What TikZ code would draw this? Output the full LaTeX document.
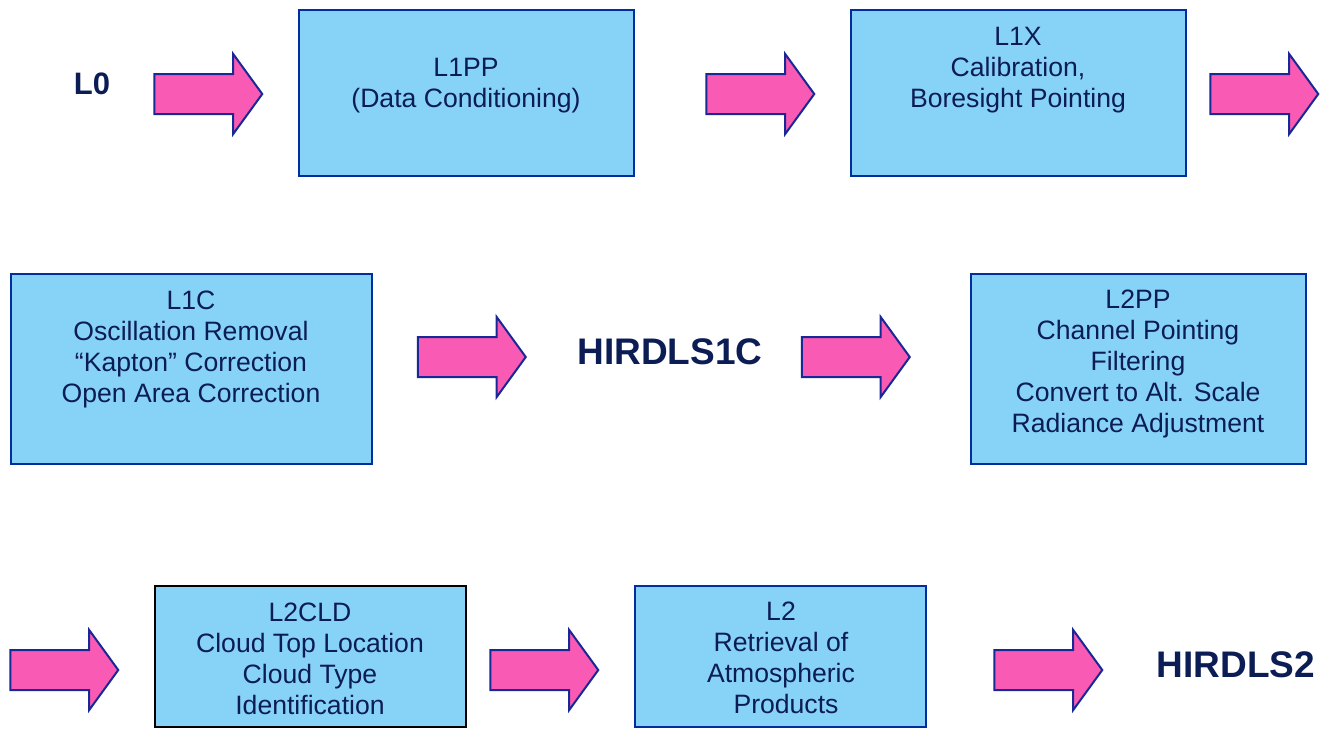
\documentclass[tikz,border=0pt]{standalone}
\usepackage{fontspec}
\setmainfont{Liberation Sans}
\usepackage{tikz}
\usetikzlibrary{shapes,arrows}
\usetikzlibrary{positioning}
\definecolor{clrBox}{RGB}{135,211,248}
\definecolor{clrBorders}{RGB}{0,45,160}
\definecolor{clrArrow}{RGB}{248,90,180}
\definecolor{clrArrowBorder}{RGB}{25,40,150}
\definecolor{clrText}{RGB}{12,28,85}
\tikzstyle{box_style}=[draw=clrBorders, line width=1pt, fill=clrBox, anchor=center]
\tikzstyle{box_text}=[align=center, text=clrText, inner sep=0pt, font=\fontsize{13.3}{15.5}\selectfont]
\tikzstyle{block_arrow}=[single arrow, draw=clrArrowBorder, line width=1pt, fill=clrArrow,
minimum height=54pt, single arrow head extend=10pt,
single arrow tip angle=108, inner xsep=0pt, inner ysep=9.5pt, anchor=center, xshift=-3.5pt]
\tikzstyle{level_name}=[text=clrText, inner sep=0pt, font=\bfseries\fontsize{18.5}{22}\selectfont]

\begin{document}
\begin{tikzpicture}[x=0.5pt, y=-0.5pt]
		\useasboundingbox (0,0) rectangle (1327,730) ;

		% first row
		\node[level_name, font=\bfseries\fontsize{15.5}{18}\selectfont] (L0) at (92,84) {L0} ;
		\node[block_arrow] (A1) at (208,94) {} ;

		\node[box_style, minimum width=167.5pt, minimum height=83pt] (L1PP) at (466.5,93) {} ;
		\node[box_text] (T1) at (466,86) {L1PP\\(Data Conditioning)} ;
		\node[block_arrow] (A2) at (760,94) {} ;

		\node[box_style, minimum width=167.5pt, minimum height=83pt] (L1X) at (1018.5,93) {} ;
		\node[box_text] (T2) at (1018,70) {L1X\\Calibration,\\Boresight Pointing} ;
		\node[block_arrow] (A3) at (1264,94) {} ;

		% second row
		\node[box_style, minimum width=180.5pt, minimum height=95pt] (L1C) at (191.5,369) {} ;
		\node[box_text] (T3) at (191,349) {L1C\\Oscillation Removal\\``Kapton'' Correction\\Open Area Correction} ;
		\node[block_arrow] (A4) at (471.5,357) {} ;

		\node[level_name] (H1C) at (670,352) {HIRDLS1C} ;
		\node[block_arrow] (A5) at (855.5,357) {} ;

		\node[box_style, minimum width=167.5pt, minimum height=95pt] (L2PP) at (1138.5,369) {} ;
		\node[box_text] (T4) at (1138,364) {L2PP\\Channel Pointing\\Filtering\\Convert to Alt. Scale\\Radiance Adjustment} ;

		% third row
		\node[block_arrow] (A6) at (64,670) {} ;
		\node[box_style, draw=black, minimum width=155.5pt, minimum height=70.5pt] (L2CLD) at (310.5,656.5) {} ;
		\node[box_text] (T5) at (310,659) {L2CLD\\Cloud Top Location\\Cloud Type\\Identification} ;
		\node[block_arrow] (A7) at (544,670) {} ;

		\node[box_style, minimum width=145.5pt, minimum height=70.5pt] (L2) at (780.5,656.5) {} ;
		\node[box_text] (T6) at (781,658) {L2\\Retrieval of\\Atmospheric\\\hspace*{5pt}Products} ;
		\node[block_arrow] (A8) at (1048,670) {} ;

		\node[level_name] (H2) at (1236,665) {HIRDLS2} ;

	\end{tikzpicture}
\end{document}
